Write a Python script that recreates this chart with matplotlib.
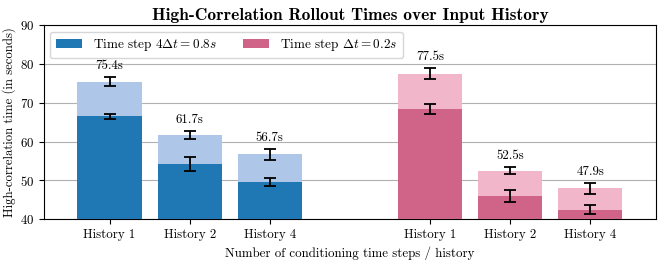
import matplotlib
matplotlib.use("Agg")
import matplotlib.pyplot as plt
import numpy as np

plt.rcParams['font.family'] = ['cmr10', 'DejaVu Serif']
plt.rcParams['mathtext.fontset'] = 'cm'
plt.rcParams['axes.formatter.use_mathtext'] = True
plt.rcParams['axes.unicode_minus'] = False

categories = ["History 1", "History 2", "History 4"]

# Time step 4dt = 0.8s (blue)
blue_total = [75.4, 61.7, 56.7]
blue_total_err = [1.1, 1.1, 1.4]
blue_low = [66.5, 54.3, 49.6]
blue_low_err = [0.7, 1.8, 1.0]

# Time step dt = 0.2s (pink)
pink_total = [77.5, 52.5, 47.9]
pink_total_err = [1.5, 0.9, 1.5]
pink_low = [68.4, 46.0, 42.4]
pink_low_err = [1.2, 1.5, 1.2]

x_blue = np.arange(3)
x_pink = np.arange(3) + 4

fig = plt.figure(figsize=(6.64, 2.64), dpi=100)
ax = fig.add_axes([0.066, 0.17, 0.922, 0.735])

fs = 9.3
w = 0.8
ek = dict(ecolor='black', capsize=4, elinewidth=1.3, capthick=1.3)
ax.bar(x_blue, blue_total, width=w, color='#aec7e8', zorder=2)
ax.bar(x_blue, blue_low, width=w, color='#1f77b4', zorder=3, label=r'Time step $4\Delta t = 0.8s$')
ax.bar(x_pink, pink_total, width=w, color='#f1b6c9', zorder=2)
ax.bar(x_pink, pink_low, width=w, color='#d06488', zorder=3, label=r'Time step $\Delta t = 0.2s$')

ax.errorbar(x_blue, blue_total, yerr=blue_total_err, fmt='none', zorder=5, **ek)
ax.errorbar(x_blue, blue_low, yerr=blue_low_err, fmt='none', zorder=5, **ek)
ax.errorbar(x_pink, pink_total, yerr=pink_total_err, fmt='none', zorder=5, **ek)
ax.errorbar(x_pink, pink_low, yerr=pink_low_err, fmt='none', zorder=5, **ek)

for xs, vals, errs in [(x_blue, blue_total, blue_total_err), (x_pink, pink_total, pink_total_err)]:
    for xi, v, e in zip(xs, vals, errs):
        ax.text(xi, v + e + 1.3, f"{v:.1f}s", ha='center', va='bottom', fontsize=fs)

ax.set_ylim(40, 90)
ax.set_xlim(-0.82, 6.82)
ax.set_yticks([40, 50, 60, 70, 80, 90])
ax.set_xticks(list(x_blue) + list(x_pink))
ax.set_xticklabels(categories + categories, fontsize=fs)
ax.tick_params(axis='y', labelsize=fs)
ax.yaxis.grid(True, color='#b0b0b0', linewidth=0.8, zorder=0)
ax.set_axisbelow(True)

ax.set_ylabel('High-correlation time (in seconds)', fontsize=9.2, labelpad=3)
ax.set_xlabel('Number of conditioning time steps / history', fontsize=fs)
ax.set_title('High-Correlation Rollout Times over Input History', fontsize=12.5,
             fontweight='bold', family=['cmb10', 'DejaVu Serif'], pad=4)

ax.legend(loc='upper left', ncol=2, fontsize=9.5, framealpha=0.8, edgecolor='#cccccc')

fig.savefig('out.png', dpi=100)
